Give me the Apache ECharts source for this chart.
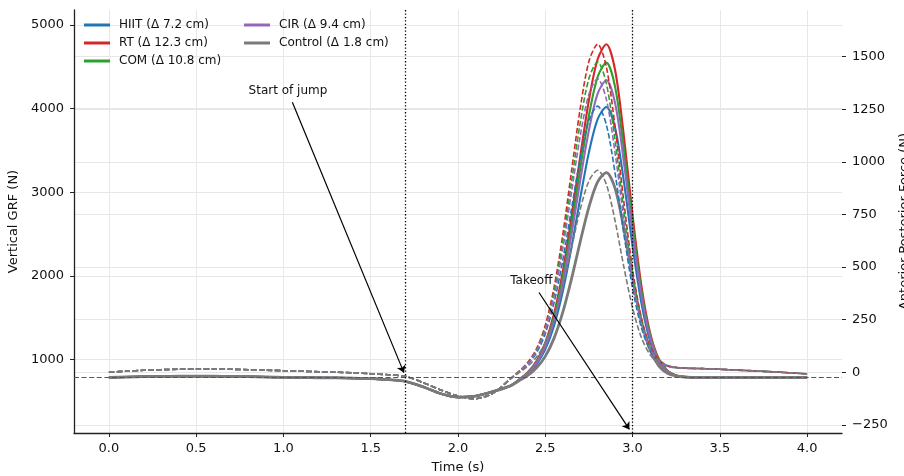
<!DOCTYPE html>
<html>
<head>
<meta charset="utf-8">
<script src="https://cdn.jsdelivr.net/npm/echarts@6/dist/echarts.min.js"></script>
<style>
  html, body { margin: 0; padding: 0; background: #ffffff; }
  #chart { width: 904px; height: 476px; }
</style>
</head>
<body>
<div id="chart"></div>
<script>
// Sample times (s): coarser in the quiet phase, finer around the propulsive peak
const time = [0, 0.1, 0.2, 0.3, 0.4, 0.5, 0.6, 0.7, 0.8, 0.9, 1.0, 1.1, 1.2, 1.3, 1.4, 1.5, 1.6,
  1.7, 1.8, 1.9, 2.0, 2.1, 2.2, 2.3,
  2.35, 2.4, 2.45, 2.5, 2.55, 2.6, 2.65, 2.7, 2.75, 2.8, 2.85, 2.9, 2.95, 3.0, 3.05, 3.1, 3.15, 3.2, 3.25, 3.3,
  3.4, 3.5, 3.6, 3.7, 3.8, 3.9, 4.0];

// Vertical ground reaction force (N)
const grfHIIT = [785, 790, 794, 797, 799, 800, 799, 797, 794, 790, 786, 783, 781, 779, 776, 770, 758,
  737, 672, 592, 548, 562, 616, 684,
  752, 828, 942, 1120, 1402, 1810, 2338, 2927, 3477, 3874, 4020, 3771, 3134, 2360, 1684, 1222, 966, 850, 804, 790,
  785, 785, 785, 785, 785, 785, 785];
const grfRT = [785, 790, 794, 797, 799, 800, 799, 797, 794, 790, 786, 783, 781, 779, 776, 770, 758,
  737, 672, 592, 548, 562, 616, 684,
  760, 846, 981, 1198, 1545, 2048, 2698, 3423, 4101, 4591, 4770, 4463, 3678, 2726, 1893, 1323, 1008, 865, 809, 791,
  785, 785, 785, 785, 785, 785, 785];
const grfCOM = [785, 790, 794, 797, 799, 800, 799, 797, 794, 790, 786, 783, 781, 779, 776, 770, 758,
  737, 672, 592, 548, 562, 616, 684,
  758, 840, 970, 1175, 1503, 1978, 2592, 3277, 3917, 4380, 4550, 4260, 3518, 2619, 1832, 1293, 996, 860, 808, 791,
  785, 785, 785, 785, 785, 785, 785];
const grfCIR = [785, 790, 794, 797, 799, 800, 799, 797, 794, 790, 786, 783, 781, 779, 776, 770, 758,
  737, 672, 592, 548, 562, 616, 684,
  756, 835, 958, 1153, 1463, 1912, 2491, 3138, 3743, 4180, 4340, 4066, 3366, 2516, 1773, 1265, 984, 856, 806, 790,
  785, 785, 785, 785, 785, 785, 785];
const grfControl = [785, 790, 794, 797, 799, 800, 799, 797, 794, 790, 786, 783, 781, 779, 776, 770, 758,
  737, 672, 592, 548, 562, 616, 684,
  745, 809, 900, 1037, 1252, 1562, 1961, 2407, 2823, 3125, 3235, 3046, 2564, 1978, 1466, 1116, 922, 834, 800, 789,
  785, 785, 785, 785, 785, 785, 785];

// Anterior-posterior force (N)
const apHIIT = [0, 5, 9, 12, 14, 15, 15, 14, 12, 10, 7, 5, 2, 0, -3, -7, -12,
  -20, -49, -84, -113, -126, -100, -32,
  2, 38, 92, 183, 329, 531, 775, 1017, 1198, 1265, 1176, 946, 659, 400, 214, 105, 52, 29, 22, 19,
  17, 14, 10, 6, 2, -3, -8];
const apRT = [0, 5, 9, 12, 14, 15, 15, 14, 12, 10, 7, 5, 2, 0, -3, -7, -12,
  -20, -49, -84, -113, -126, -100, -32,
  5, 47, 112, 223, 402, 652, 954, 1253, 1477, 1560, 1451, 1165, 811, 490, 260, 126, 60, 32, 23, 20,
  17, 14, 10, 6, 2, -3, -8];
const apCOM = [0, 5, 9, 12, 14, 15, 15, 14, 12, 10, 7, 5, 2, 0, -3, -7, -12,
  -20, -49, -84, -113, -126, -100, -32,
  4, 44, 106, 212, 381, 617, 902, 1185, 1396, 1475, 1372, 1102, 767, 464, 247, 120, 57, 31, 22, 19,
  17, 14, 10, 6, 2, -3, -8];
const apCIR = [0, 5, 9, 12, 14, 15, 15, 14, 12, 10, 7, 5, 2, 0, -3, -7, -12,
  -20, -49, -84, -113, -126, -100, -32,
  3, 42, 101, 201, 361, 584, 854, 1121, 1321, 1395, 1297, 1042, 726, 439, 234, 114, 55, 30, 22, 19,
  17, 14, 10, 6, 2, -3, -8];
const apControl = [0, 5, 9, 12, 14, 15, 15, 14, 12, 10, 7, 5, 2, 0, -3, -7, -12,
  -20, -49, -84, -113, -126, -100, -32,
  -2, 29, 72, 142, 253, 405, 590, 773, 909, 960, 893, 719, 502, 306, 166, 84, 43, 26, 21, 19,
  17, 14, 10, 6, 2, -3, -8];

// Group labels (jump height change)
const groupNames = ['HIIT (Δ 7.2 cm)', 'RT (Δ 12.3 cm)', 'COM (Δ 10.8 cm)', 'CIR (Δ 9.4 cm)', 'Control (Δ 1.8 cm)'];
const groupKeys = ['HIIT', 'RT', 'COM', 'CIR', 'Control'];

// Tick labels
const xTicks = [0, 0.5, 1.0, 1.5, 2.0, 2.5, 3.0, 3.5, 4.0];
const grfTicks = [1000, 2000, 3000, 4000, 5000];
const apTicks = [-250, 0, 250, 500, 750, 1000, 1250, 1500];

// Reference events
const bodyWeight = 785;
const jumpStart = 1.7;
const takeoff = 3.0;

const FONT = 'DejaVu Sans';
const INK = '#111111';
const GRID = '#e7e7e7';
const colors = ['#1f77b4', '#d62728', '#2ca02c', '#9467bd', '#7a7a7a'];
const grfSets = [grfHIIT, grfRT, grfCOM, grfCIR, grfControl];
const apSets = [apHIIT, apRT, apCOM, apCIR, apControl];

const pairs = arr => time.map((t, i) => [t, arr[i]]);

const series = [];
grfSets.forEach((arr, k) => {
  const isControl = k === 4;
  series.push({
    type: 'line',
    name: groupNames[k],
    xAxisIndex: 0,
    yAxisIndex: 0,
    data: pairs(arr),
    showSymbol: false,
    smooth: 0.3,
    z: 3,
    lineStyle: { color: colors[k], width: isControl ? 2.8 : 2.1 },
    itemStyle: { color: colors[k] },
    emphasis: { disabled: true },
    markLine: isControl ? {
      silent: true,
      symbol: ['none', 'none'],
      label: { show: false },
      emphasis: { disabled: true },
      animation: false,
      data: [
        { yAxis: bodyWeight, lineStyle: { color: '#555555', width: 1.2, type: [5, 2.6] } },
        { xAxis: jumpStart, lineStyle: { color: '#000000', width: 1.3, type: [1.3, 2.1] } },
        { xAxis: takeoff, lineStyle: { color: '#000000', width: 1.3, type: [1.3, 2.1] } }
      ]
    } : undefined
  });
});
apSets.forEach((arr, k) => {
  const isControl = k === 4;
  series.push({
    type: 'line',
    name: groupKeys[k] + ' AP',
    xAxisIndex: 0,
    yAxisIndex: 1,
    data: pairs(arr),
    showSymbol: false,
    smooth: 0.3,
    z: 4,
    lineStyle: { color: colors[k], width: 1.6, type: [5.5, 2.4] },
    itemStyle: { color: colors[k] },
    emphasis: { disabled: true },
    markLine: isControl ? {
      silent: true,
      symbol: ['none', 'arrow'],
      symbolSize: 7,
      label: { show: false },
      emphasis: { disabled: true },
      animation: false,
      lineStyle: { color: '#000000', width: 1.2, type: 'solid' },
      data: [
        [{ coord: [1.051, 1283] }, { coord: [1.69, -2] }],
        [{ coord: [2.464, 379] }, { coord: [2.982, -272] }]
      ]
    } : undefined,
    markPoint: isControl ? {
      silent: true,
      symbol: 'circle',
      symbolSize: 1,
      itemStyle: { color: 'rgba(0,0,0,0)' },
      animation: false,
      label: {
        show: true, position: 'inside', formatter: '{b}',
        color: INK, fontSize: 12, fontFamily: FONT
      },
      data: [
        { name: 'Start of jump', coord: [1.026, 1337] },
        { name: 'Takeoff', coord: [2.42, 434] }
      ]
    } : undefined
  });
});

const legendBase = {
  orient: 'vertical',
  icon: 'rect',
  itemWidth: 26,
  itemHeight: 3,
  itemGap: 0,
  selectedMode: false,
  textStyle: { fontSize: 12, color: INK, fontFamily: FONT, lineHeight: 18, padding: [0, 0, 0, 4] }
};

const option = {
  animation: false,
  backgroundColor: '#ffffff',
  grid: { left: 74, right: 62, top: 10, bottom: 43, containLabel: false, outerBoundsMode: 'none' },
  legend: [
    Object.assign({}, legendBase, { left: 79, top: 11, data: groupNames.slice(0, 3) }),
    Object.assign({}, legendBase, { left: 239, top: 11, data: groupNames.slice(3) })
  ],
  xAxis: {
    type: 'value',
    min: -0.2,
    max: 4.2,
    name: 'Time (s)',
    nameLocation: 'middle',
    nameGap: 28,
    nameTextStyle: { fontSize: 13, color: INK, fontFamily: FONT },
    axisLine: { show: true, onZero: false, lineStyle: { color: '#222222', width: 1.3 } },
    axisTick: { show: true, customValues: xTicks, length: 4, lineStyle: { color: '#222222', width: 1 } },
    axisLabel: { customValues: xTicks, formatter: v => v.toFixed(1), fontSize: 13, color: INK, fontFamily: FONT, margin: 9 },
    splitLine: { show: true, lineStyle: { color: GRID, width: 1 } }
  },
  yAxis: [
    {
      type: 'value',
      position: 'left',
      min: 120,
      max: 5180,
      name: 'Vertical GRF (N)',
      nameLocation: 'middle',
      nameRotate: 90,
      nameGap: 46,
      nameTextStyle: { fontSize: 13, color: INK, fontFamily: FONT },
      axisLine: { show: true, onZero: false, lineStyle: { color: '#222222', width: 1.3 } },
      axisTick: { show: true, customValues: grfTicks, length: 4, lineStyle: { color: '#222222', width: 1 } },
      axisLabel: { customValues: grfTicks, formatter: v => String(v), fontSize: 13, color: INK, fontFamily: FONT, margin: 10 },
      splitLine: { show: true, lineStyle: { color: GRID, width: 1 } }
    },
    {
      type: 'value',
      position: 'right',
      min: -289,
      max: 1722,
      name: 'Anterior-Posterior Force (N)',
      nameLocation: 'middle',
      nameRotate: 90,
      nameGap: 51,
      nameTextStyle: { fontSize: 13, color: INK, fontFamily: FONT },
      axisLine: { show: false, onZero: false },
      axisTick: { show: true, customValues: apTicks, length: 4, lineStyle: { color: '#222222', width: 1 } },
      axisLabel: { customValues: apTicks, formatter: v => (v < 0 ? '\u2212' + Math.abs(v) : String(v)), fontSize: 13, color: INK, fontFamily: FONT, margin: 10 },
      splitLine: { show: true, lineStyle: { color: GRID, width: 1 } }
    }
  ],
  series: series
};

const chart = echarts.init(document.getElementById('chart'), null, { renderer: 'canvas' });
chart.setOption(option);
</script>
</body>
</html>
